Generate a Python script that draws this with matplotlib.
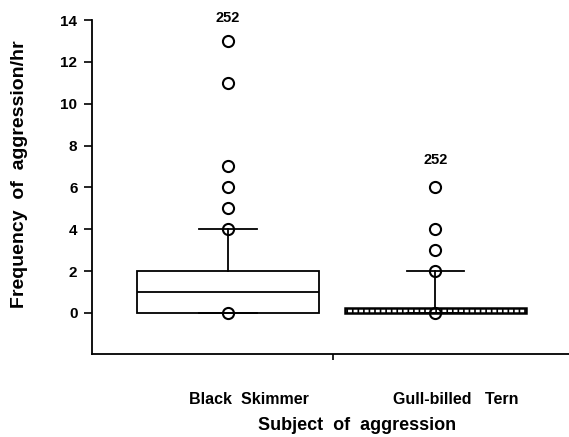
import numpy as np
import matplotlib.pyplot as plt

# data
groups = ['Black  Skimmer', 'Gull-billed   Tern']
medians = [1, 0.1]
q1 = [0, 0]
q3 = [2, 0.25]
whis_lo = [0, 0]
whis_hi = [4, 2]
outliers = [[0, 4, 5, 6, 7, 11, 13], [0, 2, 3, 4, 6]]
n_label = ['252', '252']
n_label_y = [14.1, 7.3]

positions = [0.57, 1.44]
label_pos = [0.656, 1.526]

plt.rcParams['font.family'] = ['Liberation Sans', 'DejaVu Sans']
plt.rcParams['font.weight'] = 'bold'
plt.rcParams['axes.labelweight'] = 'bold'
plt.rcParams['hatch.linewidth'] = 1.2

fig = plt.figure(figsize=(5.69, 4.37), dpi=100)
ax = fig.add_axes([92 / 569, 1 - 354 / 437, 1 - 92 / 569, (354 - 20) / 437])

stats = []
for i in range(len(groups)):
    stats.append(dict(med=medians[i], q1=q1[i], q3=q3[i],
                      whislo=whis_lo[i], whishi=whis_hi[i],
                      fliers=outliers[i], label=groups[i]))

bp = ax.bxp(stats, positions=positions, widths=0.76, capwidths=0.24,
            patch_artist=True, manage_ticks=False,
            boxprops=dict(facecolor='white', edgecolor='black', linewidth=1.3),
            medianprops=dict(color='black', linewidth=1.3),
            whiskerprops=dict(color='black', linewidth=1.3),
            capprops=dict(color='black', linewidth=1.3),
            flierprops=dict(marker='o', markersize=8, markerfacecolor='none',
                            markeredgecolor='black', markeredgewidth=1.5))

# the tern box is a thin dashed band
bp['boxes'][1].set_hatch('|||')
bp['boxes'][1].set_linewidth(1.8)
bp['medians'][1].set_visible(False)

for i in range(len(groups)):
    ax.text(positions[i], n_label_y[i], n_label[i], ha='center', va='center',
            fontsize=10.5)

ax.set_xlim(0, 2)
ax.set_ylim(-1.96, 14)
ax.set_yticks(np.arange(0, 15, 2))
ax.tick_params(axis='y', direction='out', length=6, width=1.2, pad=4.5,
               labelsize=11)

ax.set_xticks(label_pos)
ax.set_xticklabels(groups, fontsize=11.5)
ax.tick_params(axis='x', length=0, pad=27)
ax.set_xticks([1.01], minor=True)
ax.tick_params(axis='x', which='minor', direction='out', length=4, width=1.2)

ax.spines['top'].set_visible(False)
ax.spines['right'].set_visible(False)
ax.spines['left'].set_linewidth(1.3)
ax.spines['bottom'].set_linewidth(1.3)

ax.set_xlabel('Subject  of  aggression', fontsize=13)
ax.xaxis.set_label_coords(0.556, -0.188)
ax.set_ylabel('Frequency  of  aggression/hr', fontsize=14)
ax.yaxis.set_label_coords(-0.135, 0.539)

fig.savefig('out.png', dpi=100)
